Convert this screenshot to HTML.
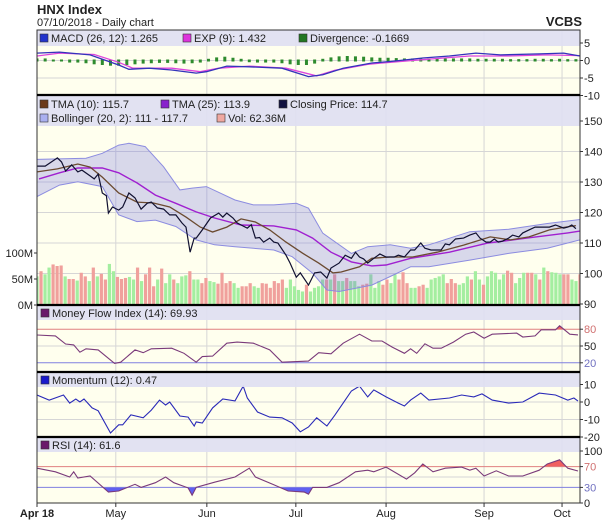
<!DOCTYPE html>
<html><head><meta charset="utf-8">
<style>
html,body{margin:0;padding:0;background:#fff;}
svg{display:block;font-family:"Liberation Sans",sans-serif;}
</style></head>
<body>
<svg id="chart" width="607" height="528" viewBox="0 0 607 528" xmlns="http://www.w3.org/2000/svg">
<text x="37" y="14" font-size="13" font-weight="bold" fill="#222">HNX Index</text>
<text x="37" y="26" font-size="11" fill="#222">07/10/2018 - Daily chart</text>
<text x="582" y="26" font-size="13" font-weight="bold" fill="#222" text-anchor="end">VCBS</text>
<g id="layer"></g>
</svg>
<script>
// ---- data (x positions in trading-day units) ----
const monthTicks=[19.3,41.6,63.4,85.5,109.5,128.6];
const monthLabels=["May","Jun","Jul","Aug","Sep","Oct"];
const closeDays=[0,2,5,6,7,8.5,10,11,13,14,15,16,17,17.5,18.5,20,21,22.5,24,25.5,27,28,29.5,31,32.5,34,35.5,36.5,37.5,38.5,39,40.5,42.5,44.5,45.5,46.5,48,49,50,51.5,52.5,53.5,54.5,55.5,57,58,59,61,62,63.5,64.5,66.5,68,69.5,71,72,74,75.5,77,78,79,80,81,82.5,84,85.5,87.5,88.5,90,91.5,92.5,94,95,96.5,99,100,101,102.5,104.5,106,107.5,108.5,110,111,112,113,114,115.5,116.5,118,119,120.5,122,124,125.5,127,129,130,131,132];
const closeVals=[135.2,135.2,137.9,136.6,133.6,135.6,133.3,133.9,132,131,132.6,126.4,125.5,119.8,121.8,120.8,121.8,126.4,124.8,121.1,123,123.4,121.5,121.1,119.2,119.2,116.6,115.2,107,111.6,111.6,114.3,118.2,119.8,118.5,119.8,118.2,116.6,115.9,114.9,116,111.6,111.8,110.3,111.6,110.3,110,106,103.4,98.8,100.2,96.2,100.2,100.5,98.5,101.8,103.4,106,105,107,105.4,104.8,103.4,105,106.4,105.4,105.4,106,105.4,107.7,107.7,110,108.3,107.7,107.7,109.7,109.4,111.3,111.6,112.6,113.3,111.6,110.3,110.3,111.3,110.3,110.6,111.6,112.6,112,113.3,114.3,115.2,115.2,115.2,115.9,114.9,115.2,115.9,114.7];
const tma25Days=[0.5,5.5,10,16,20,24.5,29,34,39,43.5,50,58,63.5,67.5,72,77,82,85.5,91.5,101,110.5,120,130,133];
const tma25Vals=[131,133,134.6,134.6,133,129.7,125.7,123,120.2,118.2,115.9,115.6,114.3,111.6,107,103.8,102.5,102.8,105,107,110,111.6,113.3,113.9];
const tma10Days=[0,5,10,13,16,20,24.5,28.5,32.5,36.5,40,43,46.5,50,53.5,57,61,65,69,72.5,74.5,79,82,86.5,92,98,104.5,111,116,120.5,125.5,129.5,132];
const tma10Vals=[133.3,134.3,135.9,134.9,131.6,126.4,123.4,123.1,121.8,118.5,115.2,113.6,115.2,117.9,116.9,114.3,110.3,106.7,103.4,100.2,100.5,102.2,105,105.4,105.4,107,109.3,112,111,112,114.3,115.2,115.7];
const bollUpDays=[0,12,16,20,22.5,26.5,31,35,38,41.5,48.5,53,58,63.5,66.5,70,77,81,86.5,91.5,96,106,115.5,125,133];
const bollUpVals=[137.4,137.8,139.4,142.1,142.7,141.6,135,127.4,128,128.5,124.1,122.5,122.5,123,121.4,113.2,106.6,108.8,109.4,108.3,109.4,113.7,114.5,116.4,117.7];
const bollLoDays=[0,5.5,10,16,20,24.5,29,34,39,43.5,48.5,58,62.5,67.5,71,74,82,86.5,91.5,96,106,115.5,125,133];
const bollLoVals=[125.2,129,130.1,128.5,119.2,117,117.5,115.4,111,109.4,108.8,107.7,105.5,100.1,94.6,94.1,96.2,99,102.2,102.2,104.4,106.6,108.3,111];
const volVals=[55,65,59,72,78,75,76,55,50,50,47,62,55,46,72,55,60,49,79,65,54,50,52,54,49,72,46,59,72,36,49,70,42,59,49,42,55,57,65,49,49,42,52,46,44,41,62,42,46,42,33,36,36,42,36,33,42,41,33,46,42,49,
33,49,36,29,26,39,26,33,36,49,49,49,59,46,46,52,46,46,36,39,41,59,33,46,39,49,42,59,49,63,42,33,33,36,39,33,49,52,55,59,42,50,42,39,42,55,49,65,49,39,55,65,62,49,59,66,62,42,52,62,62,62,59,49,72,65,63,62,59,59,59,49,46,59];
const volUp=[1,0,1,1,0,0,0,1,0,0,1,0,0,1,0,1,0,0,1,1,0,0,0,1,1,0,1,0,0,0,1,0,1,1,0,1,1,1,0,1,1,0,0,1,1,0,0,0,0,1,1,0,0,0,1,1,0,0,0,0,0,0,
1,1,1,1,1,0,1,1,1,1,0,1,0,1,1,0,1,1,1,0,0,1,1,1,0,0,1,1,0,0,0,1,1,0,0,1,1,1,1,1,0,0,0,1,1,1,0,1,1,0,1,1,1,1,1,0,0,1,1,1,0,0,1,0,1,0,1,1,1,0,0,1,1,0];
const macdDays=[0,5.5,13,20,22.5,27.5,33,39,41.5,46.5,52,60,66.5,70,75,82,86.5,94.5,101,107.5,113.5,123,129,133];
const macdVals=[2.1,2.4,1.6,-1.3,-2.5,-2.2,-2.7,-3.6,-3.2,-1.6,-1.8,-2.2,-4.6,-4.1,-2.2,-0.7,-0.3,0.7,1.3,2.1,1.6,1.9,2.1,1.3];
const expDays=[0,5.5,14,20,23.5,33,40,44.5,52,61,68.5,73,81,86.5,96,106,115.5,125,133];
const expVals=[1.3,2.1,1.7,-0.5,-2.2,-2.2,-3.2,-2.2,-1.6,-2.2,-4.4,-2.8,-1.1,-0.5,0.4,1.3,1.3,1.6,1.4];
const divVals=[0.3,0.3,0,0,-0.3,-0.3,-0.5,-0.8,-1,-1.2,-1.2,-1,-0.8,-0.6,-0.5,-0.4,-0.4,-0.5,-0.6,-0.5,-0.3,0.2,0.6,0.8,0.5,0.2,-0.2,-0.3,-0.3,-0.3,-0.5,-0.8,-1.0,-1.0,-0.6,0.2,0.6,0.9,1.0,0.9,0.8,0.6,0.5,0.5,0.4,0.3,0.3,0.3,0.3,0.3,0.3,0.3,0.3,0.3,0.2,0.2,0.2,0.2,0.1,0.1,0.1,0.2,0.2,0.1,0.2,0.1,0.1];
const mfiDays=[0,4.5,7,9,10.5,12,15,19,20.5,24,26,28,33,36,39,40.5,43,46.5,49,53,57,60,66.5,69,72,75,79,82,84.5,87,90,91.5,93,95,97,99,102,105,107,109.5,111.5,117.5,119,122,123.5,127,128,130.5,132.5];
const mfiVals=[69.6,68,53.6,52,39,45,43,19,21,43,38,45,46,37,21,31,32,55,57,55,43,21,23,38,36,55,71,59,59,48,37,45,37,54,46,46,57,71,75,64,71,73,66,68,79,79,86,71,69.9];
const momDays=[0,3,6.5,8,9.5,10.5,11.5,13.5,15,18,20,21,23,26,28,30,31.5,32.5,35,37,38.5,39,40.5,43,45.5,48.5,50.5,51.5,54,57,60,62.5,64.5,66.5,68.5,71,73,75.5,77,79,81,82.5,85.5,88.5,90,91.5,94,96,101,104,107,109,111.5,115.5,119,123,127,130,131.5,132.5];
const momVals=[4,1.1,4,-0.6,1.7,0,1.7,-3.4,-5,-17.7,-13,-13,-7.4,-9,-4.6,1.1,-1.7,0,-8,-8.6,-13.7,-11.4,-12,-3.4,1.7,0.6,9.1,2.3,-5.7,-8.6,-9,-12,-17,-14.3,-9,-13.7,-7.4,1.1,6.3,9.1,2.9,6.9,2.9,-0.6,-2.3,1.1,5.1,1.1,2.3,4,2.9,4.6,1.1,-0.6,0,5.1,4,1.1,2.3,0.5];
const rsiDays=[0,4.5,8,9,10,13,17.5,20,24,25.5,29,31.5,33.5,37,38,39,43.5,48.5,52,53.5,58,61.5,65.5,66.5,67.5,71,74,78,81,82.5,85.5,90.5,92.5,94.5,97,100,104,106,107.5,109.5,112.5,115.5,119,123,125,128,130,132.5];
const rsiVals=[67,60,50,60,48,52,21,23,36,30,39,50,39,29,15,30,40,50,67,50,35,23,21,17,30,30,39,60,63,60,69,46,58,75,60,67,69,63,67,52,62,52,52,63,75,83,67,61.6];
const priceTicks=[150,140,130,120,110,100,90];
const volTicks=[100,50,0];
const macdTicks=[5,0,-5,-10];
const mfiTicks=[80,50,20];
const momTicks=[10,0,-10,-20];
const rsiTicks=[100,70,30,0];

// ---- scales ----
const L=37,R=580;
const xS=d=>L+d*(R-L)/133;
const yMacd=v=>60.5-3.5*v;
const yP=v=>121+(150-v)*3.05;
const yV=m=>305-m*0.52;
const yMfi=v=>346-(v-50)*0.56;
const yMom=v=>402-1.75*v;
const yRsi=v=>503-0.52*v;

const NS="http://www.w3.org/2000/svg";
const layer=document.getElementById('layer');
function mk(tag,attrs,parent){const e=document.createElementNS(NS,tag);for(const k in attrs)e.setAttribute(k,attrs[k]);(parent||layer).appendChild(e);return e;}
function pts(days,vals,ys){return days.map((d,i)=>xS(d).toFixed(1)+','+ys(vals[i]).toFixed(1)).join(' ');}

const panels=[[30,95],[95,305],[305,372],[372,437],[437,503]];
const defs=mk('defs',{});
panels.forEach((p,i)=>{const c=mk('clipPath',{id:'clip'+i},defs);mk('rect',{x:L,y:p[0],width:R-L,height:p[1]-p[0]},c);});
panels.forEach((p,i)=>{
  const bg=mk('rect',{x:L,y:p[0],width:R-L,height:p[1]-p[0],fill:'#ffffee'});
  
  
});
const grid=mk('g',{stroke:'#d6d6d6','stroke-width':1});


monthTicks.forEach(d=>{mk('line',{x1:xS(d),x2:xS(d),y1:30,y2:503},grid);});
function hgrid(ys,vals,color){vals.forEach(v=>{mk('line',{x1:L,x2:R,y1:ys(v),y2:ys(v),stroke:color||'#d6d6d6'},grid);});}
hgrid(yMacd,[0,-5]);hgrid(yP,[140,130,120,110,100]);hgrid(yMfi,[50]);hgrid(yMom,[0,-10]);hgrid(yRsi,[50]);

// ---- MACD panel ----
const gM=mk('g',{'clip-path':'url(#clip0)'});


divVals.forEach((v,i)=>{
  const y0=yMacd(0),y1=yMacd(v);
  const r=mk('rect',{x:xS(i*2)-1.5,y:Math.min(y0,y1)-1,width:3,height:Math.abs(y1-y0)+2,fill:'#2e8b2e'},gM);
  
  
});
const expL=mk('polyline',{points:pts(expDays,expVals,yMacd),fill:'none',stroke:'#dd44dd','stroke-width':1.3},gM);


const macdL=mk('polyline',{points:pts(macdDays,macdVals,yMacd),fill:'none',stroke:'#3333bb','stroke-width':1.3},gM);



// ---- Main panel ----
const gP=mk('g',{'clip-path':'url(#clip1)'});


const n=volVals.length;
volVals.forEach((v,i)=>{
  const d=i*133/(n-1);
  const r=mk('rect',{x:xS(d)-1.6,y:yV(v),width:3.2,height:305-yV(v),fill:volUp[i]?'#a4eea0':'#f0a09c'},gP);
  
  
});
const band=mk('polygon',{points:pts(bollUpDays,bollUpVals,yP)+' '+pts(bollLoDays.slice().reverse(),bollLoVals.slice().reverse(),yP),fill:'rgba(110,110,225,0.27)',stroke:'#8c8ce0','stroke-width':1},gP);


const t25=mk('polyline',{points:pts(tma25Days,tma25Vals,yP),fill:'none',stroke:'#a020d0','stroke-width':1.4},gP);


const t10=mk('polyline',{points:pts(tma10Days,tma10Vals,yP),fill:'none',stroke:'#6b4a30','stroke-width':1.3},gP);


const cl=mk('polyline',{points:pts(closeDays,closeVals,yP),fill:'none',stroke:'#101030','stroke-width':1.2},gP);



function threshFill(g,days,vals,ys,th,above,color,ci){
  const yt=ys(th);
  const cid='th'+ci;
  const c=mk('clipPath',{id:cid},defs);
  if(above)mk('rect',{x:L,y:0,width:R-L,height:yt},c);else mk('rect',{x:L,y:yt,width:R-L,height:600},c);
  const p=mk('polygon',{points:xS(days[0])+','+yt+' '+pts(days,vals,ys)+' '+xS(days[days.length-1])+','+yt,fill:color,'clip-path':'url(#'+cid+')'},g);
  return p;
}
// ---- MFI ----
const gF=mk('g',{'clip-path':'url(#clip2)'});


let f1=threshFill(gF,mfiDays,mfiVals,yMfi,80,true,'#f06060',1);


let f2=threshFill(gF,mfiDays,mfiVals,yMfi,20,false,'#6060f0',2);


mk('line',{x1:L,x2:R,y1:yMfi(80),y2:yMfi(80),stroke:'#e08080'},gF);
mk('line',{x1:L,x2:R,y1:yMfi(20),y2:yMfi(20),stroke:'#8080e0'},gF);
const mfiL=mk('polyline',{points:pts(mfiDays,mfiVals,yMfi),fill:'none',stroke:'#7a3a7a','stroke-width':1.1},gF);


// ---- Momentum ----
const gMo=mk('g',{'clip-path':'url(#clip3)'});


const momL=mk('polyline',{points:pts(momDays,momVals,yMom),fill:'none',stroke:'#2a2ab8','stroke-width':1.1},gMo);


// ---- RSI ----
const gR=mk('g',{'clip-path':'url(#clip4)'});


let r1=threshFill(gR,rsiDays,rsiVals,yRsi,70,true,'#f06060',3);


let r2=threshFill(gR,rsiDays,rsiVals,yRsi,30,false,'#6060f0',4);


mk('line',{x1:L,x2:R,y1:yRsi(70),y2:yRsi(70),stroke:'#e08080'},gR);
mk('line',{x1:L,x2:R,y1:yRsi(30),y2:yRsi(30),stroke:'#8080e0'},gR);
const rsiL=mk('polyline',{points:pts(rsiDays,rsiVals,yRsi),fill:'none',stroke:'#7a3a7a','stroke-width':1.1},gR);



// ---- header bands & legends ----
const heads=[[30,46],[96,126],[306,320],[373,387],[438,452]];
heads.forEach(h=>{
  const b=mk('rect',{x:L,y:h[0],width:R-L,height:h[1]-h[0],fill:'#dfdff2','fill-opacity':0.92});
  
  
});
function legend(x,y,color,label){
  const g=mk('g',{});
  
  
  mk('rect',{x:x,y:y-8,width:8,height:8,fill:color,stroke:'#333','stroke-width':0.6},g);
  mk('text',{x:x+11,y:y,'font-size':11,fill:'#222'},g).textContent=label;
}
legend(40,42,'#2233cc','MACD (26, 12): 1.265');
legend(183,42,'#dd33dd','EXP (9): 1.432');
legend(299,42,'#227722','Divergence: -0.1669');
legend(40,108,'#6b3a1a','TMA (10): 115.7');
legend(161,108,'#8822cc','TMA (25): 113.9');
legend(279,108,'#101040','Closing Price: 114.7');
legend(40,122,'#aab0f0','Bollinger (20, 2): 111 - 117.7');
legend(217,122,'#f0a8a0','Vol: 62.36M');
legend(41,317,'#6a1a6a','Money Flow Index (14): 69.93');
legend(41,384,'#1a1acc','Momentum (12): 0.47');
legend(41,449,'#6a1a6a','RSI (14): 61.6');

// ---- frame & separators ----
mk('rect',{x:L,y:30,width:R-L,height:473,fill:'none',stroke:'#333','stroke-width':1});
[95,305,372,437].forEach(y=>{
  const s=mk('line',{x1:L,x2:R,y1:y,y2:y,stroke:'#000','stroke-width':2.2});
  
  
});

// ---- axis labels ----
function yLabels(ticks,ys,name,colors){
  const g=mk('g',{'font-size':11,fill:'#222'});
  
  
  ticks.forEach((t,i)=>{
    mk('line',{x1:R,x2:R+3,y1:ys(t),y2:ys(t),stroke:'#333'},g);
    const tx=mk('text',{x:R+4,y:ys(t)+4,fill:(colors&&colors[i])||'#222'},g);
    tx.textContent=t;
  });
}
yLabels(macdTicks,yMacd,'macd-y-axis');
yLabels(priceTicks,yP,'price-y-axis');
yLabels(mfiTicks,yMfi,'mfi-y-axis',['#d07070','#222','#7070c0']);
yLabels(momTicks,yMom,'momentum-y-axis');
yLabels(rsiTicks,yRsi,'rsi-y-axis',['#222','#d07070','#7070c0','#222']);
const vg=mk('g',{'font-size':11,fill:'#222','text-anchor':'end'});


volTicks.forEach(t=>{mk('line',{x1:L-3,x2:L,y1:yV(t),y2:yV(t),stroke:'#333'},vg);mk('text',{x:L-4,y:yV(t)+4},vg).textContent=t+'M';});
const xg=mk('g',{'font-size':11,fill:'#222','text-anchor':'middle'});


mk('line',{x1:xS(0),x2:xS(0),y1:503,y2:507,stroke:'#333'},xg);
const a=mk('text',{x:xS(0),y:517,'font-weight':'bold'},xg);a.textContent='Apr 18';
monthTicks.forEach((d,i)=>{
  mk('line',{x1:xS(d),x2:xS(d),y1:503,y2:507,stroke:'#333'},xg);
  mk('text',{x:xS(d),y:517},xg).textContent=monthLabels[i];
});
</script>
</body></html>
